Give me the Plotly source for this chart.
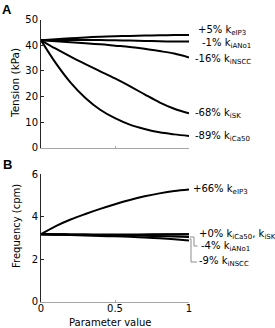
import plotly.graph_objects as go

# ---------------- data ----------------
param = [0.0, 0.1, 0.2, 0.3, 0.4, 0.5, 0.6, 0.7, 0.8, 0.9, 1.0]

# Panel A: tension (kPa)
tension_eIP3 = [41.9, 42.3, 42.7, 43.0, 43.3, 43.5, 43.6, 43.75, 43.85, 43.95, 44.0]
tension_iANo1 = [41.9, 41.95, 42.0, 42.0, 42.0, 41.9, 41.8, 41.65, 41.5, 41.45, 41.45]
tension_iNSCC = [41.9, 41.5, 41.1, 40.7, 40.3, 39.8, 39.3, 38.6, 37.7, 36.7, 35.2]
tension_iSK = [41.9, 38.6, 35.5, 32.6, 29.8, 27.0, 24.0, 20.8, 17.7, 15.2, 13.4]
tension_iCa50 = [41.9, 33.0, 25.4, 19.4, 14.8, 11.5, 9.0, 7.3, 6.0, 5.2, 4.6]

# Panel B: frequency (cpm)
freq_eIP3 = [3.17, 3.55, 3.86, 4.12, 4.36, 4.58, 4.78, 4.95, 5.09, 5.20, 5.27]
freq_iCa50 = [3.17, 3.17, 3.16, 3.16, 3.16, 3.16, 3.16, 3.16, 3.17, 3.17, 3.17]
freq_iSK = [3.17, 3.16, 3.15, 3.14, 3.13, 3.13, 3.13, 3.14, 3.15, 3.16, 3.17]
freq_iANo1 = [3.17, 3.16, 3.15, 3.14, 3.13, 3.12, 3.11, 3.10, 3.08, 3.06, 3.04]
freq_iNSCC = [3.17, 3.15, 3.13, 3.11, 3.09, 3.07, 3.05, 3.02, 2.98, 2.93, 2.88]

tension_ticks = [0, 10, 20, 30, 40, 50]
freq_ticks = [0, 2, 4, 6]
param_ticks = [0, 0.5, 1]
param_ticklabels = ["0", "0.5", "1"]

labels_A = ["+5% k<sub>eIP3</sub>", "-1% k<sub>iANo1</sub>", "-16% k<sub>iNSCC</sub>",
            "-68% k<sub>iSK</sub>", "-89% k<sub>iCa50</sub>"]
labels_B = ["+66% k<sub>eIP3</sub>", "+0% k<sub>iCa50</sub>, k<sub>iSK</sub>",
            "-4% k<sub>iANo1</sub>", "-9% k<sub>iNSCC</sub>"]

# ---------------- layout helpers ----------------
W, H = 275, 328
FONT = "DejaVu Sans"


def px(x):
    return x / W


def py(y):
    return 1 - y / H


fig = go.Figure()

seriesA = [tension_eIP3, tension_iANo1, tension_iNSCC, tension_iSK, tension_iCa50]
seriesB = [freq_eIP3, freq_iCa50, freq_iSK, freq_iANo1, freq_iNSCC]

for s in seriesA:
    fig.add_trace(go.Scatter(x=param, y=s, mode="lines", xaxis="x", yaxis="y",
                             line=dict(color="black", width=2, shape="spline"),
                             showlegend=False, hoverinfo="skip"))
for s in seriesB:
    fig.add_trace(go.Scatter(x=param, y=s, mode="lines", xaxis="x2", yaxis="y2",
                             line=dict(color="black", width=2, shape="spline"),
                             showlegend=False, hoverinfo="skip"))

xdom = [px(41), px(189)]
yA = [py(147.7), py(19.5)]
yB = [py(301.7), py(174)]

axis_common = dict(showgrid=False, zeroline=False, showline=True, ticks="inside",
                   automargin=False,
                   tickfont=dict(family=FONT, size=10, color="black"))

fig.update_layout(
    width=W, height=H,
    margin=dict(l=0, r=0, t=0, b=0, pad=0),
    paper_bgcolor="white", plot_bgcolor="white",
    font=dict(family=FONT, size=10, color="black"),
    xaxis=dict(domain=xdom, range=[0, 1], anchor="y", tickvals=param_ticks,
               showticklabels=False, linecolor="#a6a6a6", tickcolor="#a6a6a6",
               ticklen=2, linewidth=1, **axis_common),
    yaxis=dict(domain=yA, range=[0, 50], anchor="x", tickvals=tension_ticks,
               linecolor="#262626", tickcolor="#262626", ticklen=3, linewidth=1,
               **axis_common),
    xaxis2=dict(domain=xdom, range=[0, 1], anchor="y2", tickvals=param_ticks,
                ticktext=param_ticklabels, linecolor="#a6a6a6", tickcolor="#a6a6a6",
                ticklen=2, linewidth=1, ticklabelstandoff=-3, **axis_common),
    yaxis2=dict(domain=yB, range=[0, 6], anchor="x2", tickvals=freq_ticks,
                linecolor="#262626", tickcolor="#262626", ticklen=3, linewidth=1,
                **axis_common),
)

annotations = []
# panel letters
annotations.append(dict(text="<b>A</b>", x=px(7), y=py(9), xref="paper", yref="paper",
                        showarrow=False, font=dict(family="Liberation Sans", size=13),
                        xanchor="center", yanchor="middle"))
annotations.append(dict(text="<b>B</b>", x=px(7), y=py(164.5), xref="paper", yref="paper",
                        showarrow=False, font=dict(family="Liberation Sans", size=13),
                        xanchor="center", yanchor="middle"))
# axis titles
annotations.append(dict(text="Tension (kPa)", x=px(15), y=py(83), xref="paper", yref="paper",
                        showarrow=False, textangle=-90, font=dict(family=FONT, size=10.5),
                        xanchor="center", yanchor="middle"))
annotations.append(dict(text="Frequency (cpm)", x=px(17), y=py(226), xref="paper", yref="paper",
                        showarrow=False, textangle=-90, font=dict(family=FONT, size=10),
                        xanchor="center", yanchor="middle"))
annotations.append(dict(text="Parameter value", x=px(110), y=py(322.5), xref="paper", yref="paper",
                        showarrow=False, font=dict(family=FONT, size=10),
                        xanchor="center", yanchor="middle"))

posA = [(196.7, 30.7), (200.7, 43.3), (194, 59.3), (194, 113.3), (194, 136.7)]
posB = [(191.7, 189.3), (198, 234), (200, 246), (198, 261.7)]
for t, (x0, y0) in zip(labels_A + labels_B, posA + posB):
    annotations.append(dict(text=t, x=px(x0), y=py(y0), xref="paper", yref="paper",
                            showarrow=False, font=dict(family=FONT, size=10),
                            xanchor="left", yanchor="middle", borderpad=0))

fig.update_layout(annotations=annotations)


# grey leader lines in panel B
def path(points):
    s = "M %f,%f" % (px(points[0][0]), py(points[0][1]))
    for a, b in points[1:]:
        s += " L %f,%f" % (px(a), py(b))
    return s


fig.add_shape(type="path", xref="paper", yref="paper",
              path=path([(190, 237), (194, 237), (194, 246), (197.5, 246)]),
              line=dict(color="#8c8c8c", width=1))
fig.add_shape(type="path", xref="paper", yref="paper",
              path=path([(189.5, 239), (191, 239), (191, 262), (197, 262)]),
              line=dict(color="#8c8c8c", width=1))

fig.write_html("out.html",
               config={"displayModeBar": False},
               post_script="document.body.style.margin='0px';"
                           "document.body.style.overflow='hidden';")
